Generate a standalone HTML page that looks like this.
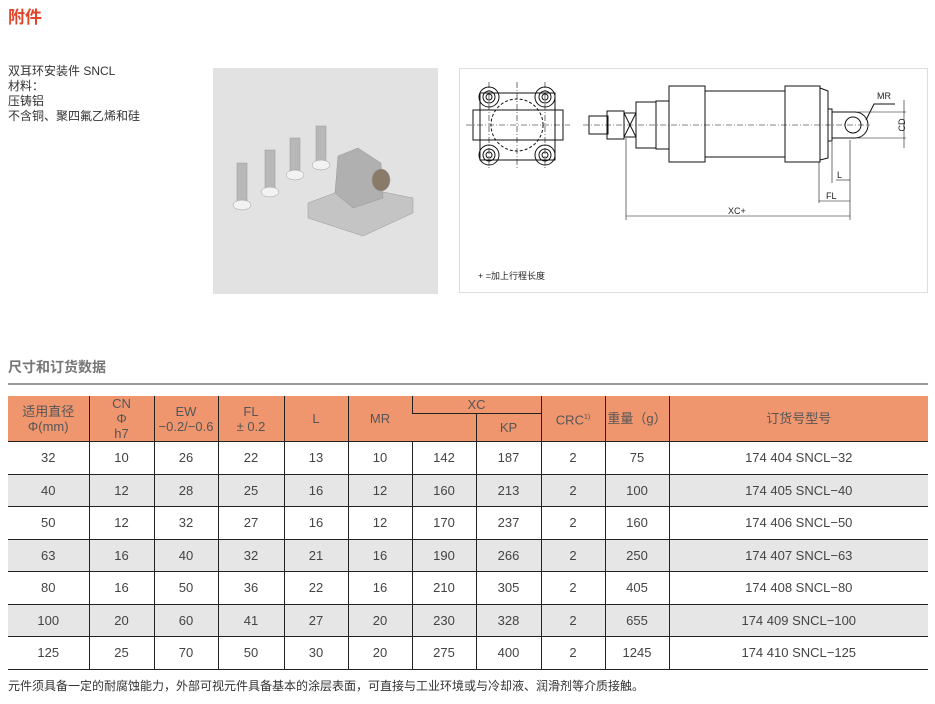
<!DOCTYPE html>
<html><head><meta charset="utf-8"><style>
*{margin:0;padding:0;box-sizing:border-box}
body{width:935px;height:704px;background:#fff;position:relative;overflow:hidden;font-family:"Liberation Sans","Noto Sans CJK SC",sans-serif;color:#333}
.a{position:absolute}
table{position:absolute;left:8px;top:396px;width:920px;border-collapse:collapse;font-size:13px;color:#444}
td{text-align:center;border-left:1px solid #222;border-bottom:1.5px solid #222;padding:0;line-height:15px}
td:first-child{border-left:none}
thead td{background:#f0966f;color:#555}
tr.g td{background:#e6e6e6}
tbody td{height:32.5px}
</style></head><body>
<div class="a" style="left:8px;top:3px;font-size:17px;font-weight:bold;color:#e0442a">附件</div>
<div class="a" style="left:8px;top:64px;font-size:12px;line-height:15px;color:#333">双耳环安装件 SNCL<br>材料：<br>压铸铝<br>不含铜、聚四氟乙烯和硅</div>
<svg class="a" style="left:213px;top:68px" width="225" height="226" viewBox="0 0 225 226">
<rect width="225" height="226" fill="#e2e2e2"/>
<g fill="#b8b8b8" stroke="#999" stroke-width="0.5">
<rect x="24" y="95" width="10" height="38"/><ellipse cx="29" cy="137" rx="9" ry="5" fill="#f2f2f2"/>
<rect x="52" y="82" width="10" height="38"/><ellipse cx="57" cy="124" rx="9" ry="5" fill="#f2f2f2"/>
<rect x="77" y="70" width="10" height="36"/><ellipse cx="82" cy="107" rx="9" ry="5" fill="#f2f2f2"/>
<rect x="103" y="58" width="10" height="36"/><ellipse cx="108" cy="97" rx="9" ry="5" fill="#f2f2f2"/>
<path d="M95 135 L140 118 L200 130 L200 145 L150 168 L95 150 Z" fill="#c4c4c4"/>
<path d="M122 125 L125 88 L145 80 L168 95 L170 130 L140 140 Z" fill="#b0b0b0"/>
<ellipse cx="168" cy="112" rx="9" ry="11" fill="#8a7a6a"/>
</g></svg>
<svg class="a" style="left:459px;top:68px" width="470" height="226" viewBox="459 68 470 226" font-family="Liberation Sans, Noto Sans CJK SC, sans-serif">
<rect x="459.5" y="68.5" width="468" height="224" fill="#fff" stroke="#ddd"/>
<g fill="none" stroke="#111" stroke-width="1">
<rect x="480" y="93" width="75" height="67"/>
<rect x="473" y="110" width="90" height="30"/>
<circle cx="517" cy="125" r="26" stroke-dasharray="3 2"/>
<g><circle cx="489" cy="97" r="10"/><circle cx="489" cy="97" r="6"/><circle cx="489" cy="97" r="3"/>
<circle cx="545" cy="97" r="10"/><circle cx="545" cy="97" r="6"/><circle cx="545" cy="97" r="3"/>
<circle cx="489" cy="155" r="10"/><circle cx="489" cy="155" r="6"/><circle cx="489" cy="155" r="3"/>
<circle cx="545" cy="155" r="10"/><circle cx="545" cy="155" r="6"/><circle cx="545" cy="155" r="3"/></g>
<g stroke-dasharray="6 2 1 2" stroke-width="0.6"><line x1="466" y1="125" x2="570" y2="125"/><line x1="517" y1="82" x2="517" y2="170"/><line x1="489" y1="82" x2="489" y2="170"/><line x1="545" y1="82" x2="545" y2="170"/><line x1="583" y1="125" x2="870" y2="125"/></g>
<rect x="589" y="116" width="19" height="18"/>
<rect x="607" y="111" width="17" height="28"/>
<rect x="624" y="113" width="12" height="24"/><path d="M624 113 L636 137 M636 113 L624 137"/>
<rect x="636" y="102" width="20" height="46"/>
<rect x="656" y="101" width="13" height="48"/>
<rect x="669" y="86" width="36" height="76"/>
<rect x="705" y="91" width="80" height="66"/>
<rect x="785" y="86" width="35" height="76"/>
<path d="M820 88 L828 91 L828 158 L820 160"/>
<path d="M828 109 L832 109 L832 141 L828 141 M832 112 L855 112 M832 138 L855 138"/>
<circle cx="853" cy="125" r="8"/><path d="M855 112 A13 13 0 0 1 855 138"/>
<path d="M866 120 L874 104 L895 104"/>
<line x1="858" y1="112" x2="906" y2="112" stroke-width="0.6"/><line x1="858" y1="138" x2="906" y2="138" stroke-width="0.6"/>
<line x1="904" y1="100" x2="904" y2="148" stroke-width="0.6"/>
<g stroke-width="0.6"><line x1="832" y1="142" x2="832" y2="183"/><line x1="850" y1="140" x2="850" y2="220"/><line x1="819" y1="162" x2="819" y2="203"/><line x1="626" y1="138" x2="626" y2="220"/>
<line x1="836" y1="180" x2="850" y2="180"/><line x1="819" y1="201" x2="850" y2="201"/><line x1="626" y1="216" x2="850" y2="216"/></g>
</g>
<text x="877" y="99" font-size="9" fill="#222">MR</text>
<text x="905" y="125" font-size="9" fill="#222" transform="rotate(-90 905 125)" text-anchor="middle">CD</text>
<text x="837" y="178" font-size="9" fill="#222">L</text>
<text x="826" y="199" font-size="9" fill="#222">FL</text>
<text x="728" y="214" font-size="9" fill="#222">XC+</text>
<text x="478" y="279" font-size="9" fill="#222">+ =加上行程长度</text>
</svg>
<div class="a" style="left:8px;top:357px;font-size:14px;font-weight:bold;color:#777">尺寸和订货数据</div>
<div class="a" style="left:8px;top:383px;width:920px;height:2px;background:#999"></div>
<table>
<colgroup><col style="width:81px"><col style="width:65px"><col style="width:64px"><col style="width:66px"><col style="width:64px"><col style="width:64px"><col style="width:64px"><col style="width:65px"><col style="width:64px"><col style="width:64px"><col></colgroup>
<thead>
<tr style="height:17px"><td rowspan="2">适用直径<br>Φ(mm)</td><td rowspan="2">CN<br>Φ<br>h7</td><td rowspan="2">EW<br>−0.2/−0.6</td><td rowspan="2">FL<br>± 0.2</td><td rowspan="2">L</td><td rowspan="2">MR</td><td colspan="2" style="border-bottom:1px solid #222">XC</td><td rowspan="2">CRC<sup style="font-size:7px">1)</sup></td><td rowspan="2">重量（g）</td><td rowspan="2">订货号型号</td></tr>
<tr style="height:27px"><td></td><td>KP</td></tr>
</thead>
<tbody>
<tr><td>32</td><td>10</td><td>26</td><td>22</td><td>13</td><td>10</td><td>142</td><td>187</td><td>2</td><td>75</td><td>174 404 SNCL−32</td></tr>
<tr class="g"><td>40</td><td>12</td><td>28</td><td>25</td><td>16</td><td>12</td><td>160</td><td>213</td><td>2</td><td>100</td><td>174 405 SNCL−40</td></tr>
<tr><td>50</td><td>12</td><td>32</td><td>27</td><td>16</td><td>12</td><td>170</td><td>237</td><td>2</td><td>160</td><td>174 406 SNCL−50</td></tr>
<tr class="g"><td>63</td><td>16</td><td>40</td><td>32</td><td>21</td><td>16</td><td>190</td><td>266</td><td>2</td><td>250</td><td>174 407 SNCL−63</td></tr>
<tr><td>80</td><td>16</td><td>50</td><td>36</td><td>22</td><td>16</td><td>210</td><td>305</td><td>2</td><td>405</td><td>174 408 SNCL−80</td></tr>
<tr class="g"><td>100</td><td>20</td><td>60</td><td>41</td><td>27</td><td>20</td><td>230</td><td>328</td><td>2</td><td>655</td><td>174 409 SNCL−100</td></tr>
<tr><td>125</td><td>25</td><td>70</td><td>50</td><td>30</td><td>20</td><td>275</td><td>400</td><td>2</td><td>1245</td><td>174 410 SNCL−125</td></tr>
</tbody></table>
<div class="a" style="left:8px;top:677px;font-size:12px;color:#333">元件须具备一定的耐腐蚀能力，外部可视元件具备基本的涂层表面，可直接与工业环境或与冷却液、润滑剂等介质接触。</div>
</body></html>
